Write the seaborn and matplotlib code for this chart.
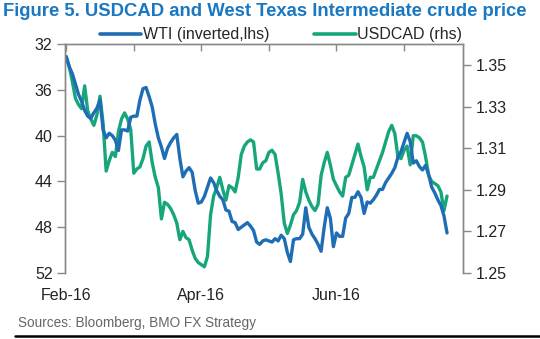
import numpy as np
import pandas as pd
import matplotlib
matplotlib.use("Agg")
import matplotlib.pyplot as plt
import seaborn as sns
from matplotlib.lines import Line2D

# ---- data (business days from 2016-02-01) ----
wti = [33.1, 34.0, 34.6, 35.5, 36.4, 37.0, 37.8, 38.3, 38.5, 38.0,
       37.6, 36.9, 39.5, 40.2, 39.8, 40.0, 40.4, 41.3, 39.5, 39.5,
       39.6, 38.4, 38.3, 38.3, 36.9, 35.9, 35.8, 36.6, 37.5, 39.0,
       40.2, 41.0, 42.0, 41.1, 40.6, 40.2, 39.9, 42.0, 43.6, 43.1,
       42.8, 43.2, 44.8, 45.9, 45.8, 45.3, 44.5, 43.7, 44.1, 44.8,
       45.3, 45.6, 46.5, 46.6, 47.5, 47.6, 48.2, 48.0, 47.8, 47.6,
       47.9, 48.3, 49.3, 49.5, 49.2, 49.1, 49.2, 49.3, 49.0, 49.2,
       48.7, 49.0, 50.2, 51.0, 49.1, 49.0, 49.0, 48.6, 46.3, 48.0,
       48.6, 49.0, 49.5, 50.1, 48.0, 46.3, 47.2, 49.7, 48.5, 48.8,
       48.8, 47.2, 46.8, 45.4, 45.4, 44.9, 45.4, 46.8, 45.8, 45.9,
       45.6, 45.2, 44.7, 44.7, 44.1, 43.7, 43.3, 42.8, 41.9, 41.4,
       40.6, 39.8, 40.5, 42.4, 42.2, 42.7, 43.0, 42.6, 43.4, 44.5,
       45.0, 45.6, 46.1, 47.0, 48.5]
usdcad = [1.354, 1.349, 1.342, 1.334, 1.331, 1.329, 1.340, 1.328, 1.324, 1.321,
          1.326, 1.335, 1.322, 1.299, 1.304, 1.308, 1.306, 1.318, 1.324, 1.327,
          1.324, 1.319, 1.298, 1.300, 1.301, 1.305, 1.311, 1.313, 1.303, 1.296,
          1.291, 1.276, 1.284, 1.283, 1.281, 1.278, 1.274, 1.266, 1.270, 1.267,
          1.266, 1.261, 1.257, 1.255, 1.254, 1.253, 1.258, 1.278, 1.287, 1.291,
          1.296, 1.290, 1.285, 1.292, 1.291, 1.289, 1.296, 1.307, 1.311, 1.313,
          1.314, 1.313, 1.300, 1.300, 1.303, 1.304, 1.308, 1.309, 1.307, 1.298,
          1.288, 1.274, 1.269, 1.273, 1.278, 1.280, 1.284, 1.295, 1.289, 1.285,
          1.282, 1.280, 1.283, 1.297, 1.303, 1.308, 1.302, 1.295, 1.292, 1.289,
          1.287, 1.296, 1.297, 1.302, 1.307, 1.312, 1.306, 1.301, 1.290, 1.296,
          1.296, 1.300, 1.304, 1.308, 1.313, 1.318, 1.321, 1.317, 1.306, 1.305,
          1.309, 1.311, 1.302, 1.316, 1.316, 1.315, 1.313, 1.306, 1.297, 1.294,
          1.293, 1.292, 1.289, 1.280, 1.287]
dates = pd.bdate_range("2016-02-01", periods=len(wti))
x_tick_pos = [0, 22, 44, 66, 88, 110]
x_tick_labels = ["Feb-16", "", "Apr-16", "", "Jun-16", ""]
left_ticks = [32, 36, 40, 44, 48, 52]
right_ticks = [1.25, 1.27, 1.29, 1.31, 1.33, 1.35]

df = pd.DataFrame({"date": dates, "idx": np.arange(len(wti)), "WTI": wti, "USDCAD": usdcad})

sns.set_theme(style="white")
plt.rcParams["font.family"] = ["Liberation Sans", "DejaVu Sans"]

BLUE = "#1f6db4"
GREEN = "#17a67c"
GRAY = "#888888"
FS = 11.5

fig = plt.figure(figsize=(5.4, 3.39), dpi=100)
ax = fig.add_axes([65 / 540, 1 - 273 / 339, (463 - 65) / 540, (273 - 44) / 339])
ax2 = ax.twinx()

sns.lineplot(data=df, x="idx", y="WTI", ax=ax, color=BLUE, lw=2.4, legend=False)
sns.lineplot(data=df, x="idx", y="USDCAD", ax=ax2, color=GREEN, lw=2.4, legend=False)
ax.set_zorder(ax2.get_zorder() + 1)
ax.patch.set_visible(False)

ax.set_xlim(-0.4, 129.2)
ax.set_ylim(52, 32)
ax2.set_ylim(1.25, 1.3601)
ax.set_yticks(left_ticks)
ax.set_yticklabels([str(v) for v in left_ticks])
ax2.set_yticks(right_ticks)
ax2.set_yticklabels([f"{v:.2f}" for v in right_ticks])
ax.set_xticks(x_tick_pos)
ax.set_xticklabels(x_tick_labels)
ax.set_xlabel("")
ax.set_ylabel("")
ax2.set_ylabel("")

for a in (ax, ax2):
    for s in a.spines.values():
        s.set_color(GRAY)
        s.set_linewidth(1.0)
    a.spines["bottom"].set_visible(False)

ax.tick_params(axis="x", which="major", top=True, bottom=False, labelbottom=True,
               labeltop=False, direction="in", length=5, width=1, color=GRAY,
               pad=11, labelsize=FS, labelcolor="#222222")
ax.tick_params(axis="y", direction="out", length=6, width=1, color=GRAY,
               labelsize=FS, labelcolor="#222222", pad=3, left=True)
ax2.tick_params(axis="y", direction="out", length=6, width=1, color=GRAY,
                labelsize=FS, labelcolor="#222222", pad=3, right=True)
ax2.tick_params(axis="x", bottom=False, top=False)

# legend
handles = [Line2D([], [], color=BLUE, lw=2.6), Line2D([], [], color=GREEN, lw=2.6)]
fig.legend(handles, ["WTI (inverted,lhs)", "USDCAD (rhs)"], loc="center",
           bbox_to_anchor=(281 / 540, 1 - 35 / 339), ncol=2, frameon=False,
           fontsize=FS, handlelength=2.6, handletextpad=0.1, columnspacing=2.8,
           borderaxespad=0)

fig.text(3 / 540, 1 - 12 / 339, "Figure 5. USDCAD and West Texas Intermediate crude price",
         fontsize=13.3, fontweight="bold", color="#1a78c2", ha="left", va="center")
fig.text(18 / 540, 1 - 323 / 339, "Sources: Bloomberg, BMO FX Strategy",
         fontsize=9.8, color="#666666", ha="left", va="center")
fig.add_artist(Line2D([15 / 540, 1.0], [1 - 336 / 339] * 2, color="black", lw=1.8,
                      transform=fig.transFigure))

fig.savefig("out.png", dpi=100)
